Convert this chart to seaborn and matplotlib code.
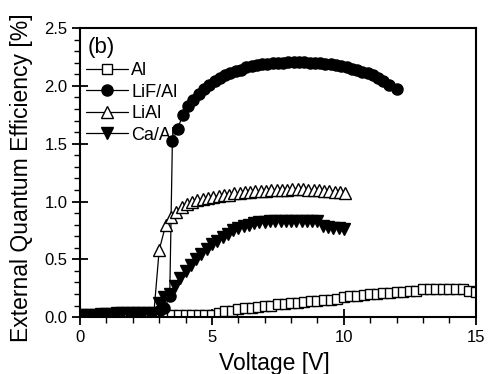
import matplotlib
matplotlib.use("Agg")
import matplotlib.pyplot as plt
import seaborn as sns
import pandas as pd
from matplotlib.ticker import MultipleLocator

sns.set_style("ticks")
plt.rcParams['font.family'] = ['Liberation Sans', 'DejaVu Sans']
plt.rcParams['text.color'] = 'black'
plt.rcParams['axes.labelcolor'] = 'black'
plt.rcParams['xtick.color'] = 'black'
plt.rcParams['ytick.color'] = 'black'

low_v = [0.0, 0.2, 0.4, 0.6, 0.8, 1.0, 1.2, 1.4, 1.6, 1.8, 2.0, 2.2, 2.4, 2.6, 2.8]
low_e = [0.02, 0.02, 0.02, 0.02, 0.03, 0.03, 0.03, 0.04, 0.04, 0.04, 0.04, 0.04, 0.04, 0.04, 0.04]

al_v = [3.0, 3.25, 3.5, 3.75, 4.0, 4.25, 4.5, 4.75, 5.0, 5.25, 5.5, 5.75, 6.0, 6.25, 6.5, 6.75,
        7.0, 7.25, 7.5, 7.75, 8.0, 8.25, 8.5, 8.75, 9.0, 9.25, 9.5, 9.75, 10.0, 10.25, 10.5, 10.75,
        11.0, 11.25, 11.5, 11.75, 12.0, 12.25, 12.5, 12.75, 13.0, 13.25, 13.5, 13.75, 14.0, 14.25,
        14.5, 14.75, 15.0]
al_e = [0.02, 0.02, 0.02, 0.02, 0.02, 0.02, 0.02, 0.02, 0.02, 0.04, 0.05, 0.05, 0.07, 0.08, 0.08, 0.09,
        0.10, 0.10, 0.11, 0.11, 0.12, 0.12, 0.13, 0.14, 0.14, 0.15, 0.15, 0.16, 0.17, 0.18, 0.18, 0.19,
        0.20, 0.20, 0.21, 0.21, 0.22, 0.22, 0.23, 0.23, 0.24, 0.24, 0.24, 0.24, 0.24, 0.24,
        0.24, 0.23, 0.22]

lif_v = low_v + [3.0, 3.2, 3.4, 3.5, 3.7, 3.9, 4.1, 4.3, 4.5, 4.7, 4.9, 5.1, 5.3, 5.5, 5.7, 5.9,
                 6.1, 6.3, 6.5, 6.7, 6.9, 7.1, 7.3, 7.5, 7.7, 7.9, 8.1, 8.3, 8.5, 8.7, 8.9, 9.1,
                 9.3, 9.5, 9.7, 9.9, 10.1, 10.3, 10.5, 10.7, 10.9, 11.1, 11.3, 11.5, 11.7, 12.0]
lif_e = low_e + [0.05, 0.08, 0.18, 1.52, 1.63, 1.75, 1.83, 1.88, 1.93, 1.97, 2.01, 2.04, 2.07, 2.09, 2.11, 2.13,
                 2.14, 2.16, 2.17, 2.18, 2.19, 2.19, 2.20, 2.20, 2.20, 2.21, 2.21, 2.21, 2.21, 2.20, 2.20, 2.20,
                 2.19, 2.19, 2.18, 2.17, 2.16, 2.15, 2.14, 2.12, 2.11, 2.09, 2.07, 2.04, 2.01, 1.97]

lial_v = low_v + [3.0, 3.25, 3.45, 3.65, 3.85, 4.05, 4.25, 4.45, 4.65, 4.85, 5.05, 5.25, 5.45, 5.65,
                  5.85, 6.05, 6.25, 6.45, 6.65, 6.85, 7.05, 7.25, 7.45, 7.65, 7.85, 8.05, 8.25, 8.45,
                  8.65, 8.85, 9.05, 9.25, 9.45, 9.65, 9.85, 10.05]
lial_e = low_e + [0.58, 0.80, 0.87, 0.91, 0.95, 0.98, 1.00, 1.01, 1.02, 1.03, 1.04, 1.05, 1.06, 1.06,
                  1.07, 1.07, 1.08, 1.08, 1.09, 1.09, 1.09, 1.10, 1.10, 1.10, 1.10, 1.11, 1.11, 1.11,
                  1.10, 1.10, 1.10, 1.09, 1.09, 1.08, 1.08, 1.07]

caal_v = low_v + [3.0, 3.2, 3.4, 3.6, 3.8, 4.0, 4.2, 4.4, 4.6, 4.8, 5.0, 5.2, 5.4, 5.6, 5.8, 6.0,
                  6.2, 6.4, 6.6, 6.8, 7.0, 7.2, 7.4, 7.6, 7.8, 8.0, 8.2, 8.4, 8.6, 8.8, 9.0, 9.2,
                  9.4, 9.6, 9.8, 10.0]
caal_e = low_e + [0.12, 0.17, 0.20, 0.27, 0.34, 0.40, 0.45, 0.50, 0.55, 0.59, 0.63, 0.66, 0.69, 0.72, 0.75, 0.77,
                  0.79, 0.80, 0.81, 0.82, 0.82, 0.83, 0.83, 0.83, 0.83, 0.83, 0.83, 0.83, 0.83, 0.83, 0.83, 0.79,
                  0.78, 0.77, 0.77, 0.76]

labels = ["Al", "LiF/Al", "LiAl", "Ca/Al"]
series = [(al_v, al_e), (lif_v, lif_e), (lial_v, lial_e), (caal_v, caal_e)]
markers = ["s", "o", "^", "v"]
facecolors = ["white", "black", "white", "black"]
sizes = [7, 8, 8, 8]

fig = plt.figure(figsize=(4.88, 3.74), dpi=100)
ax = fig.add_axes([0.164, 0.152, 0.811, 0.773])

for lab, (v, e), m, fc, ms in zip(labels, series, markers, facecolors, sizes):
    df = pd.DataFrame({"V": v, "E": e})
    sns.lineplot(data=df, x="V", y="E", ax=ax, estimator=None, sort=False,
                 color="black", linewidth=0.9, marker=m, markersize=ms,
                 markerfacecolor=fc, markeredgecolor="black", markeredgewidth=1.0,
                 label=lab)

ax.set_xlim(0, 15)
ax.set_ylim(0, 2.5)
ax.xaxis.set_major_locator(MultipleLocator(5))
ax.xaxis.set_minor_locator(MultipleLocator(1))
ax.yaxis.set_major_locator(MultipleLocator(0.5))
ax.yaxis.set_minor_locator(MultipleLocator(0.1))
ax.tick_params(axis="both", which="major", direction="inout", length=12, width=1.3,
               labelsize=12, colors="black", pad=3)
ax.tick_params(axis="both", which="minor", direction="out", length=4, width=1.0)
for s in ax.spines.values():
    s.set_visible(True)
    s.set_linewidth(1.5)
    s.set_color("black")
ax.set_xticks([0, 5, 10, 15])
ax.set_xticklabels(["0", "5", "10", "15"])
ax.set_yticks([0, 0.5, 1.0, 1.5, 2.0, 2.5])
ax.set_yticklabels(["0.0", "0.5", "1.0", "1.5", "2.0", "2.5"])

ax.set_xlabel("Voltage [V]", fontsize=16.5)
ax.xaxis.set_label_coords(0.49, -0.12)
ax.set_ylabel("External Quantum Efficiency [%]", fontsize=16.5)
ax.yaxis.set_label_coords(-0.118, 0.481)

ax.text(0.018, 0.968, "(b)", transform=ax.transAxes, fontsize=16, va="top", ha="left")
leg = ax.legend(loc="upper left", bbox_to_anchor=(-0.012, 0.92), frameon=False,
                fontsize=13, handlelength=2.3, handletextpad=0.2, labelspacing=0.25,
                borderaxespad=0.2)

fig.savefig("out.png", dpi=100)
